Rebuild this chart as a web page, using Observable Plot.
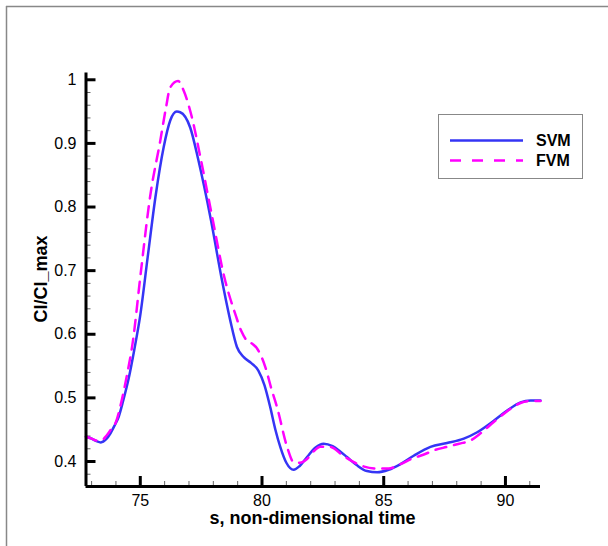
<!DOCTYPE html>
<html><head><meta charset="utf-8">
<script src="https://cdn.jsdelivr.net/npm/d3@7"></script>
<script src="https://cdn.jsdelivr.net/npm/@observablehq/plot@0.6"></script>
<style>
body{margin:0;background:#fff;}
#chart{position:relative;width:608px;height:546px;}
</style></head><body><div id="chart"></div>
<script>
// SVM (solid blue)
const svmS = [72.77,73.0,73.2,73.38,73.6,73.77,73.95,74.11,74.3,74.52,74.75,75.0,75.3,75.62,75.96,76.23,76.5,76.64,77.05,77.39,77.9,78.36,78.7,78.97,79.25,79.55,79.85,80.1,80.34,80.55,80.75,81.0,81.3,81.55,81.85,82.2,82.53,82.9,83.2,83.49,83.9,84.31,84.73,85.2,85.69,86.23,86.92,87.6,88.29,88.84,89.52,90.07,90.62,91.03,91.44];
const svmC = [0.439,0.436,0.432,0.430,0.435,0.444,0.457,0.470,0.496,0.530,0.575,0.630,0.720,0.815,0.894,0.936,0.950,0.949,0.925,0.873,0.780,0.684,0.621,0.580,0.564,0.555,0.543,0.520,0.485,0.450,0.423,0.398,0.387,0.393,0.407,0.422,0.428,0.424,0.416,0.407,0.394,0.385,0.383,0.387,0.396,0.409,0.423,0.429,0.436,0.446,0.464,0.480,0.493,0.496,0.496];
// FVM (dashed magenta)
const fvmS = [72.77,73.0,73.2,73.38,73.6,73.77,74.0,74.2,74.45,74.7,75.0,75.41,75.82,76.05,76.23,76.55,76.78,77.12,77.47,77.95,78.45,78.9,79.15,79.38,79.6,79.79,80.14,80.38,80.62,81.03,81.3,81.55,81.85,82.1,82.4,82.8,83.3,83.77,84.2,84.73,85.2,85.69,86.2,86.65,87.1,87.6,88.1,88.56,89.0,89.52,90.07,90.62,91.03,91.44];
const fvmC = [0.439,0.436,0.433,0.433,0.440,0.449,0.462,0.490,0.535,0.590,0.690,0.818,0.904,0.955,0.988,0.998,0.983,0.941,0.878,0.785,0.690,0.632,0.605,0.590,0.585,0.578,0.548,0.515,0.485,0.423,0.399,0.398,0.404,0.415,0.423,0.423,0.410,0.399,0.392,0.389,0.389,0.396,0.405,0.411,0.418,0.423,0.428,0.433,0.445,0.462,0.479,0.492,0.495,0.495];

const xMajor = [75,80,85,90];
const xMinor = [73,74,76,77,78,79,81,82,83,84,86,87,88,89,91];
const yMajor = [0.4,0.5,0.6,0.7,0.8,0.9,1];
const yMinor = [0.38,0.42,0.44,0.46,0.48,0.52,0.54,0.56,0.58,0.62,0.64,0.66,0.68,0.72,0.74,0.76,0.78,0.82,0.84,0.86,0.88,0.92,0.94,0.96,0.98];
const yTickLabels = ["0.4","0.5","0.6","0.7","0.8","0.9","1"];
const xDomain = [72.77, 91.44];
const yDomain = [0.3607, 1.0105];
const seriesNames = ["SVM","FVM"];
const seriesColors = ["#3535f5","#ff00ff"];
const xTitle = "s, non-dimensional time";
const yTitle = "Cl/Cl_max";

const svm = svmS.map((s,i)=>({s, c: svmC[i]}));
const fvm = fvmS.map((s,i)=>({s, c: fvmC[i]}));
const font = "'Liberation Sans', Arial, Helvetica, sans-serif";

const plot = Plot.plot({
  width: 608, height: 546,
  marginLeft: 85.5, marginRight: 68, marginTop: 72.6, marginBottom: 60,
  style: {fontFamily: font, fontSize: "16px", color: "#000", background: "transparent", overflow: "visible"},
  x: {domain: xDomain},
  y: {domain: yDomain},
  marks: [
    Plot.axisX(xMinor, {tickSize: -5, text: null, stroke: "#666", strokeWidth: 1, label: null}),
    Plot.axisY(yMinor, {tickSize: -5, text: null, stroke: "#666", strokeWidth: 1, label: null}),
    Plot.axisX(xMajor, {tickSize: -10, tickPadding: 18, stroke: "#000", strokeWidth: 3, fontSize: 16, label: null}),
    Plot.axisY(yMajor, {tickSize: -10, tickPadding: 19.5, stroke: "#000", strokeWidth: 3, fontSize: 16, label: null,
      tickFormat: (d) => yTickLabels[yMajor.indexOf(d)]}),
    Plot.line(svm, {x: "s", y: "c", stroke: seriesColors[0], strokeWidth: 2.5, curve: "monotone-x"}),
    Plot.line(fvm, {x: "s", y: "c", stroke: seriesColors[1], strokeWidth: 2.5, strokeDasharray: "11,8", curve: "monotone-x"}),
    Plot.ruleX([xDomain[0]], {stroke: "#000", strokeWidth: 3}),
    Plot.ruleY([yDomain[0]], {stroke: "#000", strokeWidth: 3, x1: xDomain[0] , x2: xDomain[1]})
  ]
});

const svg = d3.select(plot);
// outer frame (left and top)
svg.append("line").attr("x1",6).attr("y1",6.5).attr("x2",608).attr("y2",6.5).attr("stroke","#888").attr("stroke-width",1.5);
svg.append("line").attr("x1",6.5).attr("y1",6).attr("x2",6.5).attr("y2",546).attr("stroke","#888").attr("stroke-width",1.5);

// axis titles
svg.append("text").attr("x",312.5).attr("y",524).attr("text-anchor","middle")
  .attr("font-family",font).attr("font-size",18).attr("font-weight","bold").text(xTitle);
svg.append("text").attr("transform","translate(47,279) rotate(-90)").attr("text-anchor","middle")
  .attr("font-family",font).attr("font-size",18).attr("font-weight","bold").text(yTitle);

// legend
const lg = svg.append("g");
lg.append("rect").attr("x",438.5).attr("y",114.5).attr("width",144).attr("height",64)
  .attr("fill","#fff").attr("stroke","#888").attr("stroke-width",1);
seriesNames.forEach((name,i)=>{
  const y = 140.5 + i*20;
  lg.append("line").attr("x1",450).attr("x2",523).attr("y1",y).attr("y2",y)
    .attr("stroke",seriesColors[i]).attr("stroke-width",2.5)
    .attr("stroke-dasharray", i===1 ? "11,11" : null);
  lg.append("text").attr("x",536).attr("y",y+5.5).attr("text-anchor","start").attr("font-family",font)
    .attr("font-size",16).attr("font-weight","bold").text(name);
});

document.getElementById("chart").appendChild(plot);
</script></body></html>
